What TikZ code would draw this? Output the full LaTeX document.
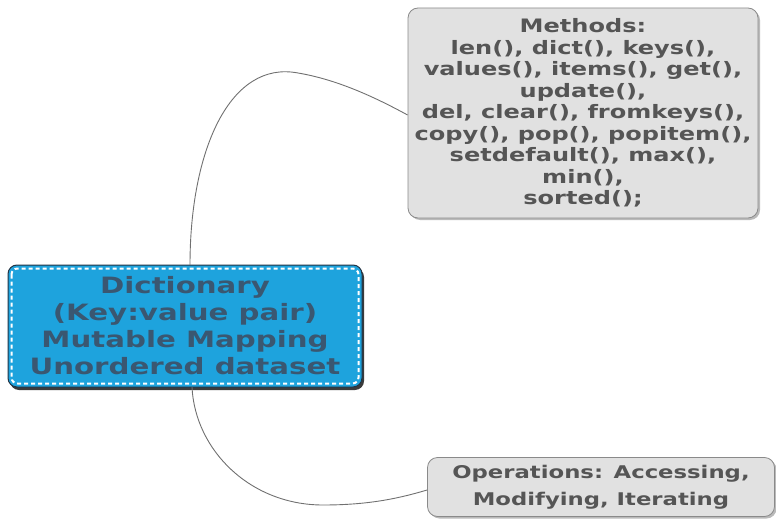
\documentclass[tikz,border=0pt]{standalone}
\usepackage{fontspec}
\setmainfont{DejaVu Sans}
\newfontfamily\widefont{DejaVu Sans}[FakeStretch=1.3]
\usetikzlibrary{shadows}
\definecolor{dictblue}{HTML}{1EA3DD}
\definecolor{dicttext}{HTML}{3A5771}
\definecolor{boxgray}{HTML}{E1E1E1}
\definecolor{boxline}{HTML}{8A8A8A}
\definecolor{graytext}{HTML}{555555}
\definecolor{linkgray}{HTML}{707070}
\tikzset{
  x=1pt, y=-1pt,
  dictbox/.style={draw=dicttext!60!black, line width=1pt, fill=dictblue, rounded corners=9pt,
    minimum width=354pt, minimum height=122pt, text=dicttext, align=center,
    font=\widefont\bfseries\fontsize{22.5}{27}\selectfont,
    drop shadow={shadow xshift=2pt, shadow yshift=-3pt, fill=black!85, opacity=0.9}},
  graybox/.style={draw=boxline, line width=0.8pt, fill=boxgray, rounded corners=10pt,
    text=graytext, align=center,
    drop shadow={shadow xshift=2pt, shadow yshift=-2pt, fill=black!45, opacity=0.6}},
  link/.style={draw=linkgray, line width=0.9pt},
}
\begin{document}
\begin{tikzpicture}
\useasboundingbox (0,0) rectangle (776,532);
\node[dictbox] (dict) at (185,326) {Dictionary\\(Key:value pair)\\Mutable Mapping\\Unordered dataset};
\draw[white, line width=2pt, dash pattern=on 4pt off 3pt, rounded corners=6pt]
  ([shift={(4,4)}]dict.north west) rectangle ([shift={(-4,-4)}]dict.south east);
\node[graybox, minimum width=350pt, minimum height=210pt,
  font=\widefont\bfseries\fontsize{18.5}{21.5}\selectfont] (meth) at (583,113)
  {Methods:\\len(), dict(), keys(),\\values(), items(), get(),\\update(),\\del, clear(), fromkeys(),\\copy(), pop(), popitem(),\\setdefault(), max(),\\min(),\\sorted();};
\node[graybox, minimum width=347pt, minimum height=59pt,
  font=\widefont\bfseries\fontsize{17.5}{27}\selectfont] (ops) at (601,487)
  {Operations: Accessing,\\Modifying, Iterating};
\coordinate (t1) at (190,265);
\coordinate (b1) at (192,387);
\draw[link] (t1) .. controls (190,150) and (230,60) .. (298,73)
  .. controls (340,80) and (380,100) .. (meth.west |- 0,115);
\draw[link] (b1) .. controls (195,450) and (250,505) .. (323,505)
  .. controls (370,505) and (400,498) .. (ops.west |- 0,490);
\end{tikzpicture}
\end{document}
